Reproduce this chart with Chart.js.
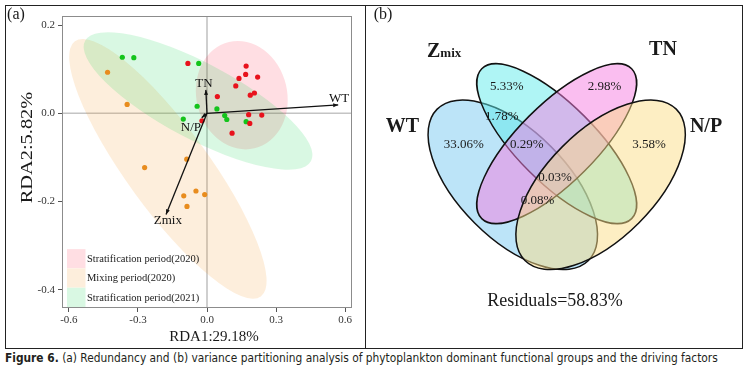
<!DOCTYPE html>
<html>
<head>
<meta charset="utf-8">
<script src="https://cdn.jsdelivr.net/npm/chart.js@4.4.1/dist/chart.umd.min.js"></script>
<style>
  html, body { margin: 0; padding: 0; background: #fff; }
  body { width: 748px; height: 375px; position: relative; overflow: hidden; }
  #frame { position: absolute; left: 5px; top: 5px; width: 738px; height: 344px; border: 1px solid #222; box-sizing: border-box; }
  #divider { position: absolute; left: 365px; top: 5px; width: 1px; height: 344px; background: #222; }
  #rda { position: absolute; left: 6px; top: 6px; }
  #venn { position: absolute; left: 366px; top: 6px; }
  #caption { position: absolute; left: 5px; top: 351px; white-space: nowrap; transform-origin: 0 0;
    font: 11.5px 'Liberation Sans Narrow', 'DejaVu Sans Condensed', 'Liberation Sans', sans-serif; color: #231f20; }
  #caption b { font-weight: bold; }
</style>
</head>
<body>
<div id="frame"></div>
<div id="divider"></div>
<canvas id="rda" width="359" height="342"></canvas>
<canvas id="venn" width="376" height="342"></canvas>
<div id="caption"><b>Figure 6.</b> (a) Redundancy and (b) variance partitioning analysis of phytoplankton dominant functional groups and the driving factors</div>

<script>
/* (a) RDA biplot */

const xTickValues = [-0.6, -0.3, 0, 0.3, 0.6];
const xTickLabels = ['-0.6', '-0.3', '0.0', '0.3', '0.6'];
const yTickValues = [-0.4, -0.2, 0, 0.2];
const yTickLabels = ['-0.4', '-0.2', '0.0', '0.2'];

const groupNames = ['Stratification period(2020)', 'Mixing period(2020)', 'Stratification period(2021)'];

// sample scores [RDA1, RDA2]
const strat2020 = [
  [-0.083, 0.113], [0.170, 0.107], [0.168, 0.088], [0.139, 0.079], [0.125, 0.062],
  [0.220, 0.082], [0.045, 0.038], [0.206, 0.046], [0.188, 0.041], [-0.022, -0.017],
  [0.181, -0.003], [0.238, -0.004], [0.186, -0.023], [0.109, -0.045]
];
const mixing2020 = [
  [-0.432, 0.093], [-0.347, 0.020], [-0.271, -0.123], [-0.088, -0.104],
  [-0.048, -0.176], [-0.010, -0.184], [-0.101, -0.187], [-0.087, -0.211]
];
const strat2021 = [
  [-0.368, 0.127], [-0.318, 0.126], [-0.036, 0.113], [-0.043, 0.016], [-0.103, -0.013],
  [0.043, 0.010], [0.077, -0.005], [0.086, -0.014], [0.170, -0.019]
];

// environmental factor arrows
const factorNames = ['WT', 'TN', 'N/P', 'Zmix'];
const factorTips = [[0.570, 0.019], [-0.005, 0.053], [-0.023, -0.010], [-0.178, -0.229]];
const factorLabelAt = [[0.574, 0.034], [-0.013, 0.068], [-0.070, -0.032], [-0.170, -0.244]];

// group ellipses: centre + two conjugate semi-axes (axis units)
const groupEllipses = [
  { c: [0.151, 0.041], u: [0.199, 0.000], v: [-0.017, 0.123] },
  { c: [-0.170, -0.126], u: [0.404, -0.289], v: [-0.144, -0.055] },
  { c: [-0.039, 0.028], u: [0.491, -0.136], v: [-0.077, -0.076] }
];

const groupColors = ['#e8121c', '#e88c1e', '#14c41c'];
const ellipseFills = ['rgba(255,0,40,0.13)', 'rgba(240,150,40,0.16)', 'rgba(0,205,70,0.15)'];

const serif = "'Liberation Serif', 'Times New Roman', serif";
const toXY = arr => arr.map(p => ({ x: p[0], y: p[1] }));

const rdaDecor = {
  id: 'rdaDecor',
  beforeDatasetsDraw(chart) {
    const { ctx, chartArea: a, scales: { x, y } } = chart;
    ctx.save();
    ctx.beginPath();
    ctx.rect(a.left, a.top, a.right - a.left, a.bottom - a.top);
    ctx.clip();

    /* zero lines */
    ctx.strokeStyle = '#c4c4c4';
    ctx.lineWidth = 1.6;
    ctx.beginPath();
    ctx.moveTo(x.getPixelForValue(0), a.top);
    ctx.lineTo(x.getPixelForValue(0), a.bottom);
    ctx.moveTo(a.left, y.getPixelForValue(0));
    ctx.lineTo(a.right, y.getPixelForValue(0));
    ctx.stroke();

    /* ellipses */
    groupEllipses.forEach((e, i) => {
      const cx = x.getPixelForValue(e.c[0]), cy = y.getPixelForValue(e.c[1]);
      const ux = x.getPixelForValue(e.c[0] + e.u[0]) - cx, uy = y.getPixelForValue(e.c[1] + e.u[1]) - cy;
      const vx = x.getPixelForValue(e.c[0] + e.v[0]) - cx, vy = y.getPixelForValue(e.c[1] + e.v[1]) - cy;
      ctx.save();
      ctx.transform(ux, uy, vx, vy, cx, cy);
      ctx.beginPath();
      ctx.arc(0, 0, 1, 0, Math.PI * 2);
      ctx.restore();
      ctx.fillStyle = ellipseFills[i];
      ctx.fill();
    });
    ctx.restore();
  },
  afterDatasetsDraw(chart) {
    const { ctx, chartArea: a, scales: { x, y } } = chart;
    ctx.save();

    /* arrow heads + labels */
    const x0 = x.getPixelForValue(0), y0 = y.getPixelForValue(0);
    ctx.fillStyle = '#111';
    factorTips.forEach((t, i) => {
      const tx = x.getPixelForValue(t[0]), ty = y.getPixelForValue(t[1]);
      const ang = Math.atan2(ty - y0, tx - x0);
      ctx.save();
      ctx.translate(tx, ty);
      ctx.rotate(ang);
      ctx.beginPath();
      ctx.moveTo(0, 0);
      ctx.lineTo(-5, -2);
      ctx.lineTo(-5, 2);
      ctx.closePath();
      ctx.fill();
      ctx.restore();
    });
    ctx.font = '13px ' + serif;
    ctx.textAlign = 'center';
    ctx.textBaseline = 'middle';
    factorNames.forEach((n, i) => {
      ctx.fillText(n, x.getPixelForValue(factorLabelAt[i][0]), y.getPixelForValue(factorLabelAt[i][1]));
    });

    /* legend, bottom-left inside panel */
    const boxW = 18.5, boxH = 19.3;
    const lx = a.left + 5, ly = a.bottom - 1 - boxH * groupNames.length;
    ctx.font = '10.5px ' + serif;
    ctx.textAlign = 'left';
    groupNames.forEach((n, i) => {
      ctx.fillStyle = '#fff';
      ctx.fillRect(lx, ly + i * boxH, boxW, boxH);
      ctx.fillStyle = ellipseFills[i];
      ctx.fillRect(lx, ly + i * boxH, boxW, boxH);
      ctx.fillStyle = '#1a1a1a';
      ctx.fillText(n, lx + boxW + 1.5, ly + i * boxH + boxH / 2 + 0.5);
    });

    /* panel frame */
    ctx.strokeStyle = '#8c8c8c';
    ctx.lineWidth = 1;
    ctx.strokeRect(a.left + 0.5, a.top + 0.5, a.right - a.left - 1, a.bottom - a.top - 1);

    /* axis titles and panel tag */
    ctx.fillStyle = '#1a1a1a';
    ctx.textAlign = 'center';
    ctx.font = '15px ' + serif;
    ctx.fillText('RDA1:29.18%', (a.left + a.right) / 2 + 7, 331);
    ctx.save();
    ctx.translate(21.5, 141.5);
    ctx.rotate(-Math.PI / 2);
    ctx.scale(1.2, 1);
    ctx.font = '17px ' + serif;
    ctx.fillText('RDA2:5.82%', 0, 0);
    ctx.restore();
    ctx.font = '16px ' + serif;
    ctx.fillText('(a)', 10, 9);
    ctx.restore();
  }
};

const pointSets = [strat2020, mixing2020, strat2021];
const pointDatasets = pointSets.map((pts, i) => ({
  type: 'scatter',
  label: groupNames[i],
  data: toXY(pts),
  pointRadius: 2.6,
  pointBackgroundColor: groupColors[i],
  pointBorderWidth: 0,
  order: 2
}));
const arrowDatasets = factorTips.map((t, i) => ({
  type: 'line',
  label: factorNames[i],
  data: [{ x: 0, y: 0 }, { x: t[0], y: t[1] }],
  borderColor: '#111',
  borderWidth: 1.3,
  pointRadius: 0,
  fill: false,
  order: 1
}));

new Chart(document.getElementById('rda'), {
  type: 'scatter',
  data: { datasets: [...arrowDatasets, ...pointDatasets] },
  options: {
    responsive: false,
    animation: false,
    devicePixelRatio: 1,
    layout: { padding: { left: 0, right: 13, top: 10, bottom: 0 } },
    plugins: { legend: { display: false }, tooltip: { enabled: false } },
    scales: {
      x: {
        type: 'linear', min: -0.63, max: 0.63,
        afterFit: s => { s.height = 40; },
        afterBuildTicks: s => { s.ticks = xTickValues.map(v => ({ value: v })); },
        grid: { drawOnChartArea: false, drawTicks: true, tickLength: 4, color: '#555' },
        border: { display: false },
        ticks: { callback: (v, i) => xTickLabels[i], font: { family: serif, size: 11 }, color: '#333', padding: 2, maxRotation: 0, autoSkip: false }
      },
      y: {
        type: 'linear', min: -0.441, max: 0.2204,
        afterFit: s => { s.width = 56; },
        afterBuildTicks: s => { s.ticks = yTickValues.map(v => ({ value: v })); },
        grid: { drawOnChartArea: false, drawTicks: true, tickLength: 4, color: '#555' },
        border: { display: false },
        ticks: { callback: (v, i) => yTickLabels[i], font: { family: serif, size: 11 }, color: '#333', padding: 3, autoSkip: false }
      }
    }
  },
  plugins: [rdaDecor]
});

/* (b) variance partitioning Venn */

const vennSets = ['WT', 'Zmix', 'TN', 'N/P'];
const vennParts = [33.06, 5.33, 2.98, 3.58, 1.78, 0.29, 0.03, 0.08];
const vennResidual = 58.83;

// label anchors for each part, panel units
const vennPartAt = [[97.7, 139], [140.7, 80.7], [238.5, 80.7], [283, 139], [135.7, 110.7], [160.7, 139], [189, 171.7], [171.5, 195]];

// ellipse outlines: WT, Zmix, TN, N/P
const vennShapes = [
  { c: [146.8, 178.8], a: 107, b: 54, rot: 45 },
  { c: [190.7, 137.7], a: 106, b: 39, rot: 45 },
  { c: [190.7, 137.7], a: 106, b: 39, rot: -45 },
  { c: [234.6, 178.8], a: 107, b: 54, rot: -45 }
];
const vennFills = ['rgba(121,201,241,0.5)', 'rgba(95,235,235,0.5)', 'rgba(245,125,225,0.5)', 'rgba(251,221,135,0.5)'];

const vennDecor = {
  id: 'vennDecor',
  beforeDatasetsDraw(chart) {
    const { ctx, scales: { x, y } } = chart;
    const k = x.getPixelForValue(1) - x.getPixelForValue(0);
    ctx.save();
    vennShapes.forEach((s, i) => {
      ctx.beginPath();
      ctx.ellipse(x.getPixelForValue(s.c[0]), y.getPixelForValue(s.c[1]), s.a * k, s.b * k, s.rot * Math.PI / 180, 0, Math.PI * 2);
      ctx.fillStyle = vennFills[i];
      ctx.fill();
      ctx.strokeStyle = '#111';
      ctx.lineWidth = 1.5;
      ctx.stroke();
    });
    ctx.restore();
  },
  afterDatasetsDraw(chart) {
    const { ctx, scales: { x, y } } = chart;
    const meta = chart.getDatasetMeta(0);
    ctx.save();
    ctx.fillStyle = '#1a1a1a';
    ctx.textAlign = 'center';
    ctx.textBaseline = 'middle';
    ctx.font = '13px ' + serif;
    meta.data.forEach((el, i) => {
      ctx.fillText(vennParts[i].toFixed(2) + '%', el.x, el.y);
    });

    ctx.font = '18px ' + serif;
    ctx.fillText('Residuals=' + vennResidual.toFixed(2) + '%', x.getPixelForValue(189), y.getPixelForValue(295.7));

    ctx.font = 'bold 20px ' + serif;
    ctx.fillText(vennSets[0], x.getPixelForValue(36.5), y.getPixelForValue(120.7));
    ctx.fillText(vennSets[2], x.getPixelForValue(297), y.getPixelForValue(44));
    ctx.fillText(vennSets[3], x.getPixelForValue(340), y.getPixelForValue(120.7));

    // Zmix: large Z, small "mix"
    ctx.textAlign = 'left';
    ctx.textBaseline = 'alphabetic';
    const zx = x.getPixelForValue(61), zy = y.getPixelForValue(51);
    ctx.fillText(vennSets[1][0], zx, zy);
    const zw = ctx.measureText(vennSets[1][0]).width;
    ctx.font = 'bold 13px ' + serif;
    ctx.fillText(vennSets[1].slice(1), zx + zw, zy);

    ctx.textAlign = 'center';
    ctx.textBaseline = 'middle';
    ctx.font = '16px ' + serif;
    ctx.fillText('(b)', 17, 9);
    ctx.restore();
  }
};

new Chart(document.getElementById('venn'), {
  type: 'scatter',
  data: {
    datasets: [{
      label: 'parts',
      data: vennPartAt.map(p => ({ x: p[0], y: p[1] })),
      pointRadius: 0
    }]
  },
  options: {
    responsive: false,
    animation: false,
    devicePixelRatio: 1,
    layout: { padding: 0 },
    plugins: { legend: { display: false }, tooltip: { enabled: false } },
    scales: {
      x: { type: 'linear', min: 0, max: 376, display: false },
      y: { type: 'linear', min: 0, max: 342, reverse: true, display: false }
    }
  },
  plugins: [vennDecor]
});

/* fit caption to the figure width */
const cap = document.getElementById('caption');
cap.style.transform = 'scaleX(' + (713 / cap.scrollWidth).toFixed(4) + ')';
</script>
</body>
</html>
